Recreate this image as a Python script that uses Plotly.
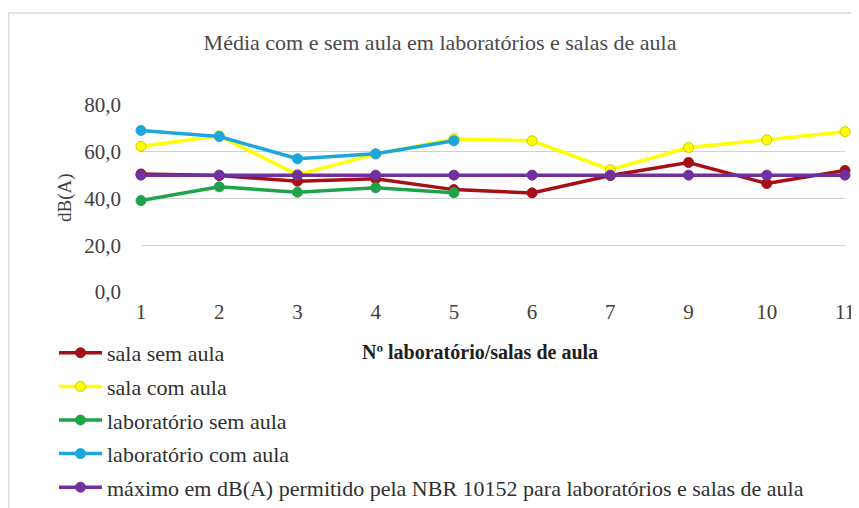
import plotly.graph_objects as go

categories = ["1", "2", "3", "4", "5", "6", "7", "9", "10", "11"]
sala_sem_aula = [50.5, 49.8, 47.4, 48.4, 43.8, 42.4, 49.8, 55.4, 46.4, 52.0]
sala_com_aula = [62.3, 66.8, 50.2, 59.0, 65.5, 64.7, 52.3, 61.8, 65.1, 68.6]
lab_cat = ["1", "2", "3", "4", "5"]
lab_sem_aula = [39.1, 45.0, 42.7, 44.6, 42.5]
lab_com_aula = [69.1, 66.5, 57.0, 59.1, 64.7]
maximo = [50, 50, 50, 50, 50, 50, 50, 50, 50, 50]

names = [
    "sala sem aula",
    "sala com aula",
    "laboratório sem aula",
    "laboratório com aula",
    "máximo em dB(A) permitido pela NBR 10152 para laboratórios e salas de aula",
]
colors = ["#A50F15", "#FFFF00", "#1FA34A", "#1BA7DC", "#7030A0"]
xs = [categories, categories, lab_cat, lab_cat, categories]
ys = [sala_sem_aula, sala_com_aula, lab_sem_aula, lab_com_aula, maximo]

fig = go.Figure()
for i in range(5):
    fig.add_trace(go.Scatter(
        x=xs[i], y=ys[i], name=names[i], mode="lines+markers",
        line=dict(color=colors[i], width=3.5),
        marker=dict(color=colors[i], size=10,
                    line=dict(color="#D4C400" if i == 1 else colors[i], width=1)),
        legendgroup=str(i), cliponaxis=False,
    ))

font_fam = "Liberation Serif"
# figure is placed 8px into the page by the default body margin
W, H = 851, 500
L, R, T, B = 133, 14, 97, 216
pw, ph = W - L - R, H - T - B


def px_x(p):
    return (p - L) / pw


def px_y(p):
    return (H - B - p) / ph


border = dict(color="#D9D9D9", width=1.5)
fig.update_layout(
    width=W, height=H,
    margin=dict(l=L, r=R, t=T, b=B, autoexpand=False),
    paper_bgcolor="white", plot_bgcolor="white",
    separators=",.",
    font=dict(family=font_fam, size=21, color="#404040"),
    title=dict(text="Média com e sem aula em laboratórios e salas de aula",
               x=432 / W, xanchor="center", y=1 - 34 / H, yanchor="middle",
               font=dict(family=font_fam, size=22, color="#4A4A4A")),
    showlegend=True,
    legend=dict(xref="container", yref="container",
                x=46 / W, xanchor="left", y=1 - 324 / H, yanchor="top",
                orientation="v", traceorder="grouped", tracegroupgap=2,
                font=dict(family=font_fam, size=22, color="#303030"),
                itemwidth=43, bgcolor="rgba(0,0,0,0)"),
    xaxis=dict(type="category", categoryorder="array", categoryarray=categories,
               range=[0, 9], showgrid=False, zeroline=False, showline=False,
               ticks="", ticklabelstandoff=5, automargin=False,
               tickfont=dict(family=font_fam, size=21, color="#404040")),
    yaxis=dict(range=[0, 80], tickvals=[0, 20, 40, 60, 80], tickformat=".1f",
               showgrid=True, gridcolor="#D0D0D0", gridwidth=1, zeroline=False,
               showline=False, ticks="", ticklabelstandoff=19, automargin=False,
               tickfont=dict(family=font_fam, size=21, color="#404040")),
    annotations=[
        dict(text="<b>Nº laboratório/salas de aula</b>", xref="paper", yref="paper",
             x=px_x(472), y=px_y(344), xanchor="center", yanchor="middle",
             showarrow=False, font=dict(family=font_fam, size=20, color="#202020")),
        dict(text="dB(A)", xref="paper", yref="paper", textangle=-90,
             x=px_x(57), y=px_y(190), xanchor="center", yanchor="middle",
             showarrow=False, font=dict(family=font_fam, size=19, color="#404040")),
    ],
    shapes=[
        dict(type="line", xref="paper", yref="paper", x0=px_x(0.5), x1=px_x(0.5),
             y0=px_y(5), y1=px_y(510), line=border),
        dict(type="line", xref="paper", yref="paper", x0=px_x(0.5), x1=px_x(849),
             y0=px_y(5), y1=px_y(5), line=border),
        dict(type="line", xref="paper", yref="paper", x0=px_x(849), x1=px_x(849),
             y0=px_y(5), y1=px_y(510), line=border),
    ],
)

fig.write_html("out.html")
